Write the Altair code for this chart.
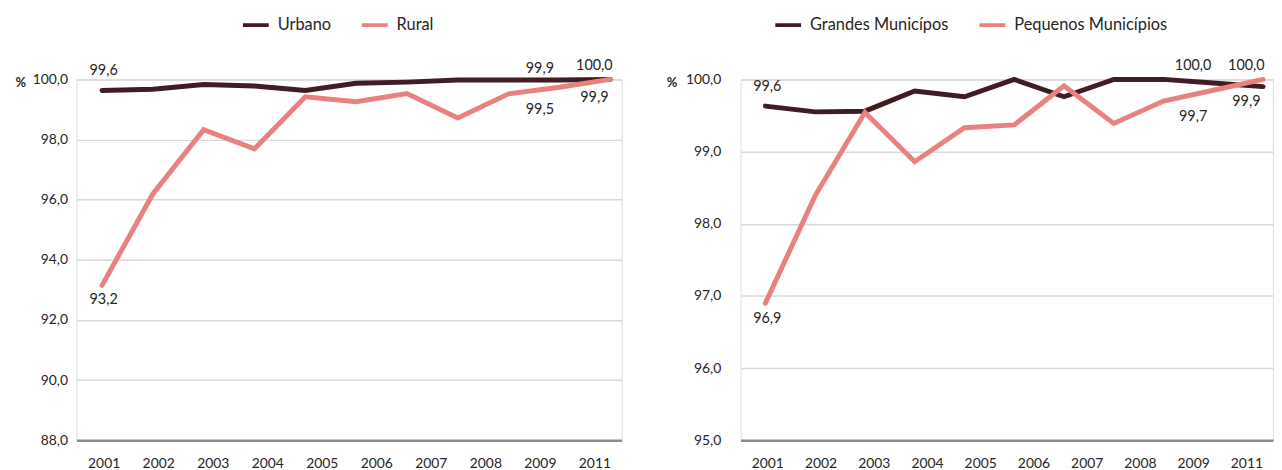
import altair as alt
import pandas as pd

FONT = "Lato"
DARK = "#3f1d22"
PINK = "#e8817f"
TXT = "#262626"

# x-axis categories (as printed)
cats = ["2001", "2002", "2003", "2004", "2005", "2006", "2007", "2008", "2009", "2011"]
# years of line vertices (11 points drawn)
line_years = [2001, 2002, 2003, 2004, 2005, 2006, 2007, 2008, 2009, 2010, 2011]

# left panel
urbano = [99.63, 99.67, 99.83, 99.78, 99.63, 99.87, 99.91, 99.98, 99.98, 99.98, 100.0]
rural = [93.15, 96.19, 98.33, 97.69, 99.42, 99.26, 99.53, 98.72, 99.52, 99.74, 100.0]
# right panel
grandes = [99.63, 99.55, 99.56, 99.84, 99.76, 100.0, 99.76, 100.0, 100.0, 99.95, 99.9]
pequenos = [96.9, 98.39, 99.54, 98.86, 99.33, 99.37, 99.91, 99.39, 99.70, 99.85, 100.0]

# data labels
lab_cats = ["2001", "2009", "2011"]
urbano_lab = [99.6, 99.9, 100.0]
rural_lab = [93.2, 99.5, 99.9]
grandes_lab = [99.6, 100.0, 100.0]
pequenos_lab = [96.9, 99.7, 99.9]


def panel(names, series, labels, ydom, yvals, width, xdom, legx, titlex, lpad):
    rows = []
    for n, vals in zip(names, series):
        for yr, v in zip(line_years, vals):
            rows.append({"year": yr, "value": v, "serie": n})
    df = pd.DataFrame(rows)
    lrows = []
    for i, (n, vals) in enumerate(zip(names, labels)):
        for c, v in zip(lab_cats, vals):
            lrows.append({"cat": c, "value": v, "pos": "above" if i == 0 else "below"})
    dl = pd.DataFrame(lrows)

    yenc = alt.Y(
        "value:Q",
        scale=alt.Scale(domain=ydom, nice=False, zero=False),
        axis=alt.Axis(
            values=yvals, labelExpr="replace(format(datum.value, '.1f'), '.', ',')",
            grid=True, gridColor="#d9d9d9", gridWidth=1.5, domain=False, ticks=False,
            labelPadding=lpad, labelFont=FONT, labelFontSize=14, labelColor=TXT,
            title="%", titleAngle=0, titleAlign="left", titleBaseline="middle",
            titleX=titlex, titleY=3, titleFont=FONT, titleFontSize=13,
            titleFontWeight="bold", titleColor=TXT,
        ),
    )
    line = alt.Chart(df).mark_line(strokeWidth=5, strokeCap="round").encode(
        x=alt.X("year:Q", scale=alt.Scale(domain=xdom, nice=False, zero=False), axis=None),
        y=yenc,
        color=alt.Color(
            "serie:N", scale=alt.Scale(domain=names, range=[DARK, PINK]),
            legend=alt.Legend(
                title=None, orient="none", legendX=legx, legendY=-63, direction="horizontal",
                symbolType="stroke", symbolStrokeWidth=4, symbolSize=676, clipHeight=16,
                labelFont=FONT, labelFontSize=16.5, labelColor=TXT,
                columnPadding=29, labelOffset=7,
            ),
        ),
    )
    xaxis = alt.Axis(
        orient="bottom", ticks=False, domainColor="#8c8c8c", domainWidth=2.5,
        labelAngle=0, labelPadding=16, labelFont=FONT, labelFontSize=14,
        labelColor=TXT, title=None, grid=False,
    )
    xenc = alt.X("cat:O", scale=alt.Scale(type="point", domain=cats, padding=0.5), axis=xaxis)
    tbase = alt.Chart(dl).mark_text(font=FONT, fontSize=14.5, color=TXT)
    t1 = tbase.mark_text(font=FONT, fontSize=14.5, color=TXT, dy=-21).encode(
        x=xenc, y=yenc, text=alt.Text("lab:N")
    ).transform_filter("datum.pos == 'above' && datum.cat == '2001'")
    t2 = tbase.mark_text(font=FONT, fontSize=14.5, color=TXT, dy=-13).encode(
        x=xenc, y=yenc, text=alt.Text("lab:N")
    ).transform_filter("datum.pos == 'above' && datum.cat != '2001'")
    t3 = tbase.mark_text(font=FONT, fontSize=14.5, color=TXT, dy=16).encode(
        x=xenc, y=yenc, text=alt.Text("lab:N")
    ).transform_filter("datum.pos == 'below'")
    texts = alt.layer(t1, t2, t3).transform_calculate(
        lab="replace(format(datum.value, '.1f'), '.', ',')"
    )
    return alt.layer(line, texts).resolve_scale(x="independent").properties(
        width=width, height=364
    )


left = panel(["Urbano", "Rural"], [urbano, rural], [urbano_lab, rural_lab],
             [88, 100], [88, 90, 92, 94, 96, 98, 100], 550, [2000.496, 2011.225],
             166, -62, 9)
right = panel(["Grandes Municípos", "Pequenos Municípios"], [grandes, pequenos],
              [grandes_lab, pequenos_lab], [95, 100], [95, 96, 97, 98, 99, 100], 537,
              [2000.502, 2011.2], 33, -75, 20)

chart = alt.hconcat(left, right, spacing=43).resolve_scale(color="independent").properties(
    padding={"left": 6, "top": 6, "right": 0, "bottom": 0}
).configure_view(stroke=None).configure(background="white")

chart.save("out.html", embed_options={"renderer": "svg", "actions": False})
